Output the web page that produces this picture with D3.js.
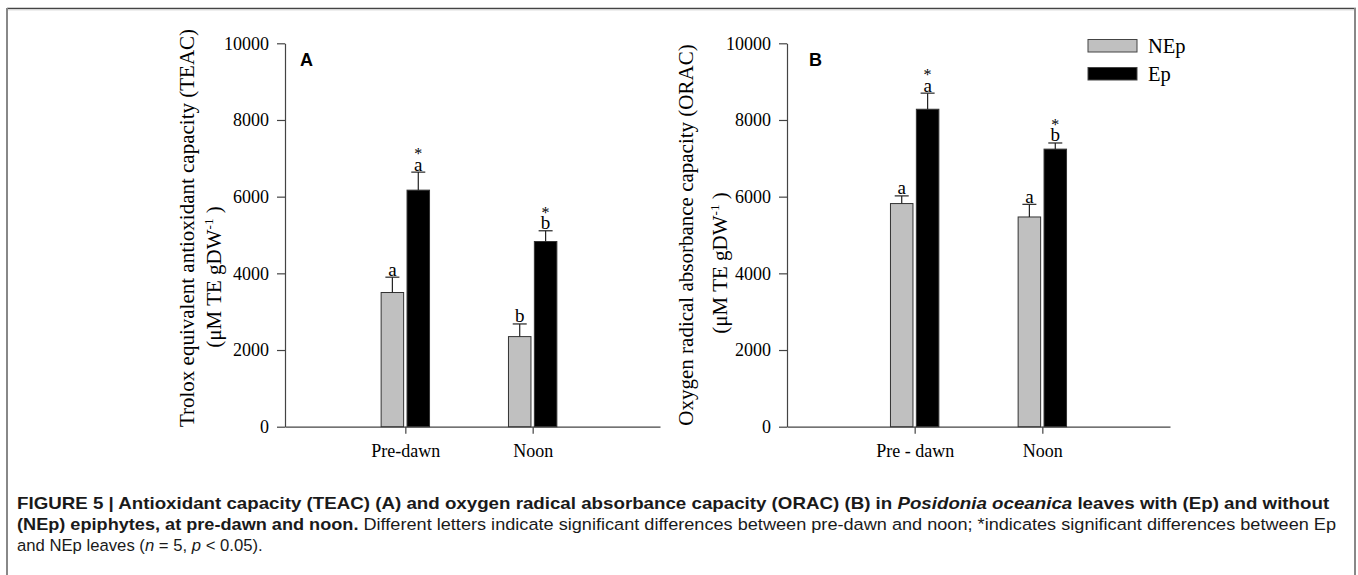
<!DOCTYPE html>
<html><head><meta charset="utf-8">
<script src="https://cdn.jsdelivr.net/npm/d3@7"></script>
<style>body{margin:0;background:#fff}svg{display:block}</style>
</head><body>
<svg id="chart" width="1358" height="575"></svg>
<script>
// ---------- data ----------
const categoriesA = ["Pre-dawn", "Noon"];
const categoriesB = ["Pre - dawn", "Noon"];
const seriesNames = ["NEp", "Ep"];
const yTicks = [0, 2000, 4000, 6000, 8000, 10000];

const teacNEp = [3500, 2350];
const teacNEpErr = [400, 330];
const teacEp = [6170, 4830];
const teacEpErr = [470, 280];
const teacLettersNEp = ["a", "b"];
const teacLettersEp = ["a", "b"];

const oracNEp = [5820, 5470];
const oracNEpErr = [200, 330];
const oracEp = [8280, 7240];
const oracEpErr = [420, 160];
const oracLettersNEp = ["a", "a"];
const oracLettersEp = ["a", "b"];

const epStars = ["*", "*"];

// ---------- drawing ----------
const svg = d3.select("#chart");
svg.append("rect").attr("width", 1358).attr("height", 575).attr("fill", "#fff");

const SERIF = "'Liberation Serif','Times New Roman',serif";
const SANS = "'Liberation Sans',Arial,Helvetica,sans-serif";
const colors = ["#c0c0c0", "#000000"];

// frame
svg.append("line").attr("x1", 7).attr("x2", 1356).attr("y1", 8.5).attr("y2", 8.5).attr("stroke", "#444").attr("stroke-width", 1.5);
svg.append("line").attr("x1", 8).attr("x2", 1355).attr("y1", 10).attr("y2", 10).attr("stroke", "#ddd").attr("stroke-width", 1);
svg.append("line").attr("x1", 7).attr("x2", 7).attr("y1", 8).attr("y2", 575).attr("stroke", "#888").attr("stroke-width", 2);
svg.append("line").attr("x1", 1355).attr("x2", 1355).attr("y1", 8).attr("y2", 575).attr("stroke", "#888").attr("stroke-width", 2);

const y = d3.scaleLinear().domain([0, 10000]).range([426.7, 43.3]);

function rotLabel(g, parts, cx, cy, size) {
  const t = g.append("text")
    .attr("transform", `translate(${cx},${cy}) rotate(-90)`)
    .attr("text-anchor", "middle")
    .attr("font-family", SERIF).attr("font-size", size).attr("fill", "#000");
  parts.forEach(p => {
    const ts = t.append("tspan").text(p.t);
    if (p.sup) ts.attr("font-size", size * 0.62).attr("dy", -size * 0.4);
    if (p.down) ts.attr("dy", size * 0.4);
  });
  return t;
}

function drawPanel(cfg) {
  const g = svg.append("g");
  const x = d3.scaleLinear().domain(cfg.xDomain).range(cfg.xRange);
  const x0 = cfg.xRange[0];

  const ya = g.append("g").attr("transform", `translate(${x0},0)`)
    .call(d3.axisLeft(y).tickValues(yTicks).tickSize(8).tickSizeOuter(0).tickPadding(8).tickFormat(d3.format("d")));
  const xa = g.append("g").attr("transform", `translate(0,${y(0)})`)
    .call(d3.axisBottom(x).tickValues([1, 2]).tickFormat(i => cfg.cats[i - 1]).tickSize(7).tickSizeOuter(0).tickPadding(10.5));
  [ya, xa].forEach(a => {
    a.select(".domain").attr("stroke", "#444").attr("stroke-width", 1.2);
    a.selectAll(".tick line").attr("stroke", "#444").attr("stroke-width", 1.2);
    a.selectAll(".tick text").attr("font-family", SERIF).attr("font-size", 18).attr("fill", "#000");
  });

  const bw = 22.5, gap = 1.7;
  const series = [
    { vals: cfg.nep, errs: cfg.nepErr, letters: cfg.nepLetters, stars: null, fill: colors[0], off: -gap - bw },
    { vals: cfg.ep, errs: cfg.epErr, letters: cfg.epLetters, stars: epStars, fill: colors[1], off: gap }
  ];
  series.forEach(s => {
    s.vals.forEach((v, i) => {
      const bx = x(i + 1) + s.off;
      const cx = bx + bw / 2;
      g.append("rect").attr("x", bx).attr("y", y(v)).attr("width", bw).attr("height", y(0) - y(v))
        .attr("fill", s.fill).attr("stroke", "#333").attr("stroke-width", 1);
      const top = y(v + s.errs[i]);
      g.append("line").attr("x1", cx).attr("x2", cx).attr("y1", y(v)).attr("y2", top).attr("stroke", "#222").attr("stroke-width", 1.2);
      g.append("line").attr("x1", cx - 7).attr("x2", cx + 7).attr("y1", top).attr("y2", top).attr("stroke", "#222").attr("stroke-width", 1.2);
      g.append("text").attr("x", cx).attr("y", top - 1.5).attr("text-anchor", "middle")
        .attr("font-family", SERIF).attr("font-size", 19).attr("fill", "#000").text(s.letters[i]);
      if (s.stars) {
        g.append("text").attr("x", cx).attr("y", top - 13).attr("text-anchor", "middle")
          .attr("font-family", SERIF).attr("font-size", 16).attr("fill", "#000").text(s.stars[i]);
      }
    });
  });

  g.append("text").attr("x", cfg.letterX).attr("y", 65.5).attr("font-family", SANS).attr("font-weight", "bold")
    .attr("font-size", 18).attr("fill", "#000").text(cfg.letter);

  rotLabel(g, [{ t: cfg.ylab1 }], cfg.lab1X, cfg.lab1Y, 21);
  rotLabel(g, [{ t: "(\u03BCM TE gDW" }, { t: "-1", sup: true }, { t: " )", down: true }], cfg.lab2X, cfg.lab2Y, 21);
}

drawPanel({
  xDomain: [0.055, 3], xRange: [285, 660], cats: categoriesA,
  nep: teacNEp, nepErr: teacNEpErr, nepLetters: teacLettersNEp,
  ep: teacEp, epErr: teacEpErr, epLetters: teacLettersEp,
  letter: "A", letterX: 300,
  ylab1: "Trolox equivalent antioxidant capacity (TEAC)", lab1X: 194, lab1Y: 228,
  lab2X: 221, lab2Y: 277
});
drawPanel({
  xDomain: [0, 3], xRange: [787, 1170], cats: categoriesB,
  nep: oracNEp, nepErr: oracNEpErr, nepLetters: oracLettersNEp,
  ep: oracEp, epErr: oracEpErr, epLetters: oracLettersEp,
  letter: "B", letterX: 809,
  ylab1: "Oxygen radical absorbance capacity (ORAC)", lab1X: 693, lab1Y: 235,
  lab2X: 727, lab2Y: 263
});

// legend
const legend = svg.append("g");
seriesNames.forEach((n, i) => {
  legend.append("rect").attr("x", 1088).attr("y", 39.5 + i * 28).attr("width", 49).attr("height", 12.5)
    .attr("fill", colors[i]).attr("stroke", "#444").attr("stroke-width", 1);
  legend.append("text").attr("x", 1148).attr("y", 52.5 + i * 28).attr("font-family", SERIF).attr("font-size", 20.5)
    .attr("fill", "#000").text(n);
});

// caption (horizontally scaled to fit the reference line widths)
const cap = svg.append("g").attr("font-family", SANS).attr("font-size", 16.5).attr("fill", "#1a1a1a");
function capLine() { return cap.append("text").attr("x", 0).attr("y", 0); }

const l1 = capLine().attr("font-weight", "bold");
l1.append("tspan").text("FIGURE 5 | Antioxidant capacity (TEAC) (A) and oxygen radical absorbance capacity (ORAC) (B) in ");
l1.append("tspan").attr("font-style", "italic").text("Posidonia oceanica");
l1.append("tspan").text(" leaves with (Ep) and without");

const l2 = capLine();
l2.append("tspan").attr("font-weight", "bold").text("(NEp) epiphytes, at pre-dawn and noon.");
l2.append("tspan").text(" Different letters indicate significant differences between pre-dawn and noon; *indicates significant differences between Ep");

const l3 = capLine();
l3.append("tspan").text("and NEp leaves (");
l3.append("tspan").attr("font-style", "italic").text("n");
l3.append("tspan").text(" = 5, ");
l3.append("tspan").attr("font-style", "italic").text("p");
l3.append("tspan").text(" < 0.05).");

const r1 = (1330 - 17) / l1.node().getComputedTextLength();
const r2 = (1337 - 17) / l2.node().getComputedTextLength();
l1.attr("transform", `translate(17,509) scale(${r1},1)`);
l2.attr("transform", `translate(17,530) scale(${r2},1)`);
l3.attr("transform", `translate(17,550.5) scale(${r2 * 0.92},1)`);
</script>
</body></html>
